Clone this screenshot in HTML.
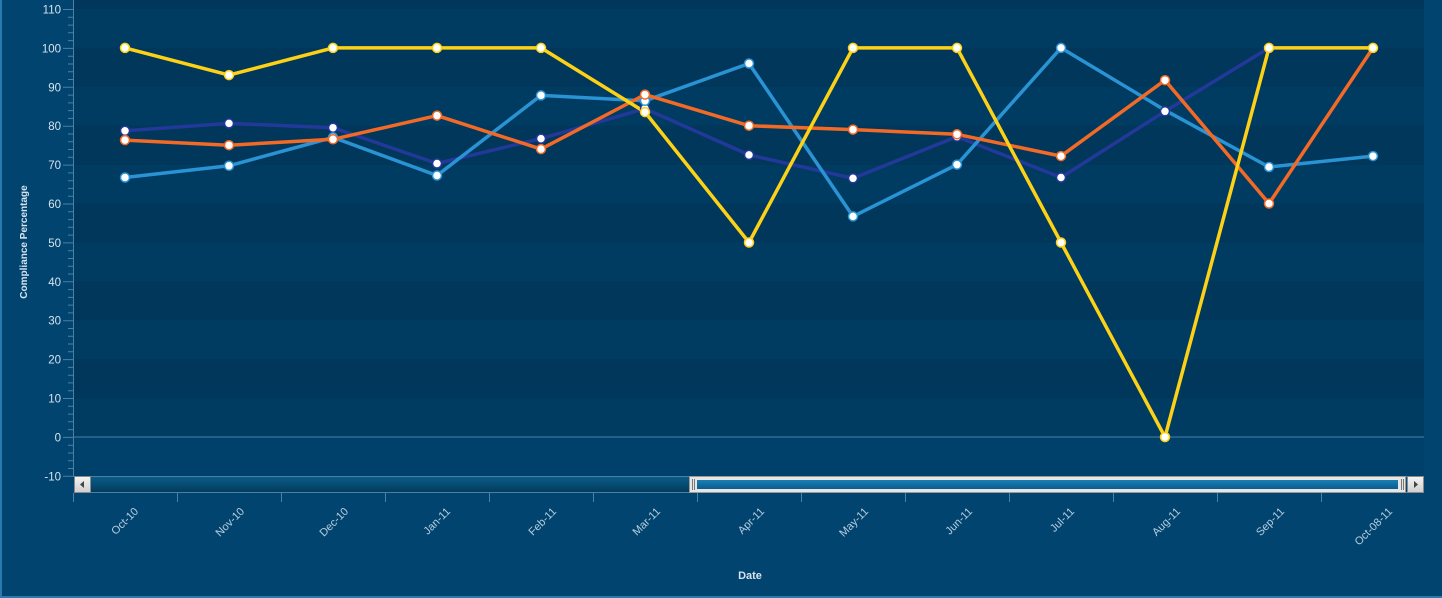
<!DOCTYPE html>
<html><head><meta charset="utf-8"><style>
html,body{margin:0;padding:0;background:#00446f;}
svg{display:block;font-family:"Liberation Sans","DejaVu Sans",sans-serif;}
</style></head><body>
<svg width="1442" height="598" viewBox="0 0 1442 598" xmlns="http://www.w3.org/2000/svg">
<defs>
<linearGradient id="trk" x1="0" y1="0" x2="0" y2="1"><stop offset="0" stop-color="#0a5d8a"/><stop offset="1" stop-color="#033a5a"/></linearGradient>
<linearGradient id="thb" x1="0" y1="0" x2="0" y2="1"><stop offset="0" stop-color="#1a7fb5"/><stop offset="1" stop-color="#0a5e8e"/></linearGradient>
<linearGradient id="btn" x1="0" y1="0" x2="0" y2="1"><stop offset="0" stop-color="#f4f4f4"/><stop offset="1" stop-color="#cfcfcf"/></linearGradient>
</defs>
<rect x="0" y="0" width="1442" height="598" fill="#00446f"/>
<rect x="0" y="0" width="2" height="598" fill="#2a79b0"/>
<rect x="0" y="596" width="1442" height="2" fill="#2a79b0"/>
<!-- plot bands -->
<rect x="74" y="0" width="1350" height="437" fill="#00375a"/>
<g fill="#003b61">
<rect x="74" y="9" width="1350" height="38.9"/>
<rect x="74" y="86.8" width="1350" height="38.9"/>
<rect x="74" y="164.6" width="1350" height="38.9"/>
<rect x="74" y="242.5" width="1350" height="38.9"/>
<rect x="74" y="320.3" width="1350" height="38.9"/>
<rect x="74" y="398.1" width="1350" height="38.9"/>
</g>
<rect x="74" y="437" width="1350" height="39" fill="#00416b"/>
<line x1="74" y1="437" x2="1424" y2="437" stroke="#4a7fa6" stroke-width="1"/>
<!-- y axis -->
<line x1="73.5" y1="0" x2="73.5" y2="476" stroke="#4d7fa3" stroke-width="1"/>
<g stroke="#4d7fa3" stroke-width="1">
<path d="M63 9.5H74M63 48.4H74M63 87.3H74M63 126.2H74M63 165.1H74M63 204H74M63 242.9H74M63 281.8H74M63 320.7H74M63 359.6H74M63 398.5H74M63 437.4H74M63 476.3H74"/>
</g>
<g stroke="#4d7fa3" stroke-width="1" id="minor">
<path d="M68 17.3H74M68 25.1H74M68 32.8H74M68 40.6H74M68 56.2H74M68 64H74M68 71.7H74M68 79.5H74M68 95.1H74M68 102.9H74M68 110.6H74M68 118.4H74M68 134H74M68 141.8H74M68 149.5H74M68 157.3H74M68 172.9H74M68 180.7H74M68 188.4H74M68 196.2H74M68 211.8H74M68 219.6H74M68 227.3H74M68 235.1H74M68 250.7H74M68 258.5H74M68 266.2H74M68 274H74M68 289.6H74M68 297.4H74M68 305.1H74M68 312.9H74M68 328.5H74M68 336.3H74M68 344H74M68 351.8H74M68 367.4H74M68 375.2H74M68 382.9H74M68 390.7H74M68 406.3H74M68 414.1H74M68 421.8H74M68 429.6H74M68 445.2H74M68 453H74M68 460.7H74M68 468.5H74"/>
</g>
<g fill="#d7e3ee" font-size="11.5" text-anchor="end">
<text x="61" y="13.5">110</text><text x="61" y="52.4">100</text><text x="61" y="91.3">90</text><text x="61" y="130.2">80</text><text x="61" y="169.1">70</text><text x="61" y="208">60</text><text x="61" y="246.9">50</text><text x="61" y="285.8">40</text><text x="61" y="324.7">30</text><text x="61" y="363.6">20</text><text x="61" y="402.5">10</text><text x="61" y="441.4">0</text><text x="61" y="480.3">-10</text>
</g>
<text transform="translate(27,242) rotate(-90)" text-anchor="middle" fill="#d7e3ee" font-size="10" font-weight="bold">Compliance Percentage</text>
<!-- scrollbar -->
<rect x="74" y="476" width="1350" height="17" fill="url(#trk)"/>
<line x1="74" y1="476.5" x2="1424" y2="476.5" stroke="#4d7fa3"/>
<line x1="74" y1="492.5" x2="1424" y2="492.5" stroke="#4d7fa3"/>
<rect x="74.5" y="476.5" width="16" height="16" fill="url(#btn)" stroke="#8a8a8a"/>
<path d="M80 484.5L84 481V488Z" fill="#444"/>
<rect x="689.5" y="476.5" width="716" height="16" fill="#e6e6e6" stroke="#9a9a9a"/>
<rect x="697" y="480" width="701" height="9" fill="url(#thb)"/>
<path d="M692.5 479V490M694.5 479V490M1401.5 479V490M1403.5 479V490" stroke="#777"/>
<rect x="1407.5" y="476.5" width="16" height="16" fill="url(#btn)" stroke="#8a8a8a"/>
<path d="M1418 484.5L1414 481V488Z" fill="#444"/>
<!-- x ticks -->
<path d="M73.5 493V502M177.5 493V502M281.5 493V502M385.5 493V502M489.5 493V502M593.5 493V502M697.5 493V502M801.5 493V502M905.5 493V502M1009.5 493V502M1113.5 493V502M1217.5 493V502M1321.5 493V502" stroke="#4d7fa3"/>
<g fill="#b9cedf" font-size="11" text-anchor="end">
<text transform="translate(139,512) rotate(-45)">Oct-10</text>
<text transform="translate(245,512) rotate(-45)">Nov-10</text>
<text transform="translate(349,512) rotate(-45)">Dec-10</text>
<text transform="translate(451,512) rotate(-45)">Jan-11</text>
<text transform="translate(557,512) rotate(-45)">Feb-11</text>
<text transform="translate(661,512) rotate(-45)">Mar-11</text>
<text transform="translate(765,512) rotate(-45)">Apr-11</text>
<text transform="translate(869,512) rotate(-45)">May-11</text>
<text transform="translate(973,512) rotate(-45)">Jun-11</text>
<text transform="translate(1075,512) rotate(-45)">Jul-11</text>
<text transform="translate(1181,512) rotate(-45)">Aug-11</text>
<text transform="translate(1285,512) rotate(-45)">Sep-11</text>
<text transform="translate(1393,512) rotate(-45)">Oct-08-11</text>
</g>
<text x="750" y="579" text-anchor="middle" fill="#d7e3ee" font-size="11" font-weight="bold">Date</text>
<!-- series -->
<g fill="none" stroke-width="3.5" stroke-linejoin="round">
<polyline stroke="#23399a" points="125,130.8 229,123.4 333,127.7 437,163.5 541,138.6 645,108.6 749,154.9 853,178.3 957,136.6 1061,177.5 1165,111.3 1269,47.9 1373,47.9"/>
<polyline stroke="#2a93d4" points="125,177.5 229,165.8 333,137.4 437,175.5 541,95.4 645,100.8 749,63.5 853,216.4 957,164.6 1061,47.9 1165,110.2 1269,167 1373,156.1"/>
<polyline stroke="#f26a26" points="125,140.1 229,145.2 333,139.3 437,115.6 541,149.1 645,94.6 749,125.7 853,129.6 957,134.3 1061,156.1 1165,80.2 1269,203.5 1373,47.9"/>
<polyline stroke="#fcd116" points="125,47.9 229,75.1 333,47.9 437,47.9 541,47.9 645,112.1 749,242.5 853,47.9 957,47.9 1061,242.5 1165,437 1269,47.9 1373,47.9"/>
</g>
<g fill="#fff" stroke-width="1.5">
<g stroke="#23399a">
<circle cx="125" cy="130.8" r="4.5"/><circle cx="229" cy="123.4" r="4.5"/><circle cx="333" cy="127.7" r="4.5"/><circle cx="437" cy="163.5" r="4.5"/><circle cx="541" cy="138.6" r="4.5"/><circle cx="645" cy="108.6" r="4.5"/><circle cx="749" cy="154.9" r="4.5"/><circle cx="853" cy="178.3" r="4.5"/><circle cx="957" cy="136.6" r="4.5"/><circle cx="1061" cy="177.5" r="4.5"/><circle cx="1165" cy="111.3" r="4.5"/>
</g>
<g stroke="#2a93d4">
<circle cx="125" cy="177.5" r="4.5"/><circle cx="229" cy="165.8" r="4.5"/><circle cx="333" cy="137.4" r="4.5"/><circle cx="437" cy="175.5" r="4.5"/><circle cx="541" cy="95.4" r="4.5"/><circle cx="645" cy="100.8" r="4.5"/><circle cx="749" cy="63.5" r="4.5"/><circle cx="853" cy="216.4" r="4.5"/><circle cx="957" cy="164.6" r="4.5"/><circle cx="1061" cy="47.9" r="4.5"/><circle cx="1269" cy="167" r="4.5"/><circle cx="1373" cy="156.1" r="4.5"/>
</g>
<g stroke="#f26a26">
<circle cx="125" cy="140.1" r="4.5"/><circle cx="229" cy="145.2" r="4.5"/><circle cx="333" cy="139.3" r="4.5"/><circle cx="437" cy="115.6" r="4.5"/><circle cx="541" cy="149.1" r="4.5"/><circle cx="645" cy="94.6" r="4.5"/><circle cx="749" cy="125.7" r="4.5"/><circle cx="853" cy="129.6" r="4.5"/><circle cx="957" cy="134.3" r="4.5"/><circle cx="1061" cy="156.1" r="4.5"/><circle cx="1165" cy="80.2" r="4.5"/><circle cx="1269" cy="203.5" r="4.5"/>
</g>
<g stroke="#fcd116">
<circle cx="125" cy="47.9" r="4.5"/><circle cx="229" cy="75.1" r="4.5"/><circle cx="333" cy="47.9" r="4.5"/><circle cx="437" cy="47.9" r="4.5"/><circle cx="541" cy="47.9" r="4.5"/><circle cx="645" cy="112.1" r="4.5"/><circle cx="749" cy="242.5" r="4.5"/><circle cx="853" cy="47.9" r="4.5"/><circle cx="957" cy="47.9" r="4.5"/><circle cx="1061" cy="242.5" r="4.5"/><circle cx="1165" cy="437" r="4.5"/><circle cx="1269" cy="47.9" r="4.5"/><circle cx="1373" cy="47.9" r="4.5"/>
</g>
</g>
</svg>
</body></html>
